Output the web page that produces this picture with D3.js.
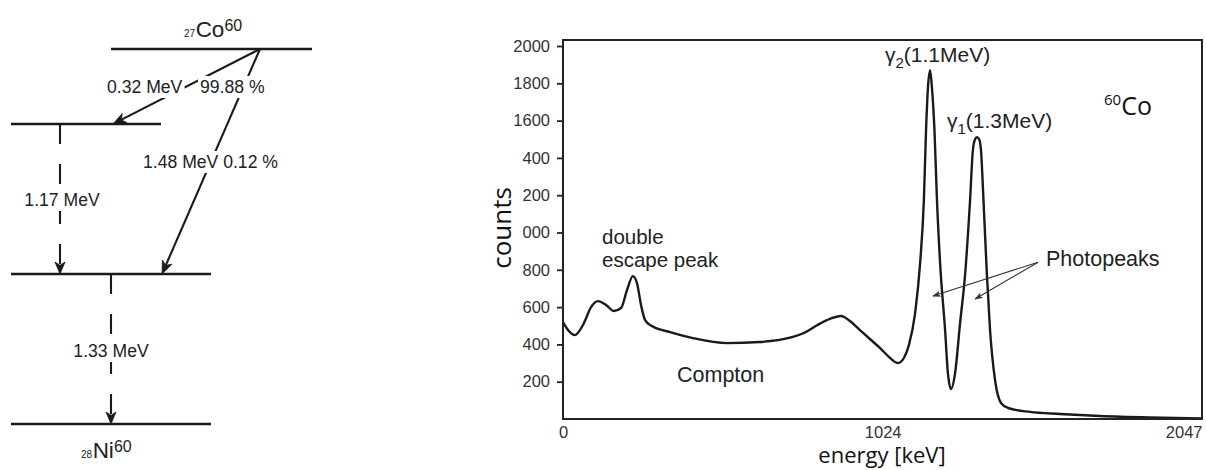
<!DOCTYPE html>
<html>
<head>
<meta charset="utf-8">
<script src="https://cdn.jsdelivr.net/npm/d3@7"></script>
<style>
  body { margin: 0; background: #fff; }
  svg { display: block; }
</style>
</head>
<body>
<svg id="fig" width="1206" height="470"></svg>
<script>
// ---------- Co-60 gamma spectrum ----------
const energy = [0, 16, 38, 64, 90, 112, 138, 163, 186, 205, 224, 237, 250, 263, 285, 343, 416, 525, 631, 727,
  775, 814, 855, 891, 919, 951, 983, 1016, 1048, 1073, 1092, 1108, 1128, 1144, 1156, 1163, 1169, 1176, 1182, 1190,
  1198, 1208, 1224, 1233, 1243, 1256, 1272, 1288, 1304, 1313, 1320, 1326, 1333, 1339, 1347, 1358, 1368, 1384, 1403, 1426,
  1496, 1592, 1720, 1880, 2047];
const counts = [520, 477, 450, 504, 600, 632, 611, 579, 595, 691, 766, 729, 611, 530, 498, 466, 434, 407, 413, 436,
  464, 503, 537, 552, 525, 477, 429, 380, 327, 300, 327, 396, 568, 836, 1173, 1548, 1774, 1870, 1774, 1548,
  1173, 836, 477, 246, 161, 246, 514, 772, 1173, 1441, 1500, 1511, 1500, 1441, 1173, 772, 477, 209, 86, 59,
  38, 27, 16, 8, 3];

const yTickValues = [200, 400, 600, 800, 1000, 1200, 1400, 1600, 1800, 2000];
const yTickLabels = ["200", "400", "600", "800", "000", "200", "400", "1600", "1800", "2000"];
const xTickValues = [0, 1024, 2047];
const xTickLabels = ["0", "1024", "2047"];

// ---------- Co-60 decay scheme (level energies in MeV) ----------
const levelEnergy = [2.824, 2.506, 1.333, 0];
const betaFrom = [2.824, 2.824];
const betaTo = [2.506, 1.333];
const betaLabels = [["0.32 MeV", "99.88 %"], ["1.48 MeV 0.12 %"]];
const gammaFrom = [2.506, 1.333];
const gammaTo = [1.333, 0];
const gammaLabels = ["1.17 MeV", "1.33 MeV"];

const svg = d3.select("#fig");
const INK = "#1a1a1a";
const SANS = "'Liberation Sans', Arial, sans-serif";
const ROUND = "'Open Sans', 'Noto Sans', sans-serif";

// arrowhead path with tip at (x2,y2) pointing along (x1,y1)->(x2,y2)
function arrowHead(g, x1, y1, x2, y2, len, half, color) {
  const a = Math.atan2(y2 - y1, x2 - x1);
  const c = Math.cos(a), s = Math.sin(a);
  const bx = x2 - len * c, by = y2 - len * s;
  const nx = x2 - len * 0.72 * c, ny = y2 - len * 0.72 * s;
  const p = [[x2, y2], [bx - half * s, by + half * c], [nx, ny], [bx + half * s, by - half * c]];
  g.append("path").attr("d", "M" + p.map(q => q.join(",")).join("L") + "Z")
    .attr("fill", color).attr("stroke", color).attr("stroke-width", 0.8).attr("stroke-linejoin", "round");
}

// label with a white box behind it, leaving a gap in lines underneath
function boxedText(g, txt, x, y, anchor, size) {
  const grp = g.append("g");
  const rect = grp.append("rect").attr("fill", "#fff");
  const t = grp.append("text").attr("x", x).attr("y", y).attr("text-anchor", anchor)
    .attr("font-family", SANS).attr("font-size", size).attr("fill", "#222").text(txt);
  const b = t.node().getBBox();
  rect.attr("x", b.x - 2).attr("y", b.y - 1).attr("width", b.width + 4).attr("height", b.height + 2);
  return grp;
}

// ---------- decay scheme ----------
(function drawScheme() {
  const g = svg.append("g");
  // polylinear placement of the levels
  const ly = d3.scaleLinear().domain([0, 1.333, 2.506, 2.824]).range([424, 274, 124, 49]);
  const levelSpan = { 2.824: [111, 312], 2.506: [11, 161], 1.333: [11, 211], 0: [11, 211] };
  const betaStartX = 260;
  const betaEndX = { 2.506: 113, 1.333: 162 };
  const gammaX = { 2.506: 60, 1.333: 111 };

  levelEnergy.forEach(e => {
    g.append("line").attr("x1", levelSpan[e][0]).attr("x2", levelSpan[e][1])
      .attr("y1", ly(e)).attr("y2", ly(e)).attr("stroke", INK).attr("stroke-width", 2.3);
  });

  // beta branches
  betaFrom.forEach((e0, i) => {
    const x1 = betaStartX, y1 = ly(e0), x2 = betaEndX[betaTo[i]], y2 = ly(betaTo[i]);
    const a = Math.atan2(y2 - y1, x2 - x1);
    g.append("line").attr("x1", x1).attr("y1", y1)
      .attr("x2", x2 - 9 * Math.cos(a)).attr("y2", y2 - 9 * Math.sin(a))
      .attr("stroke", INK).attr("stroke-width", 2.1);
    arrowHead(g, x1, y1, x2, y2, 13, 5.2, INK);
  });

  // gamma transitions (dashed)
  gammaFrom.forEach((e0, i) => {
    const x = gammaX[e0], y1 = ly(e0), y2 = ly(gammaTo[i]);
    g.append("line").attr("x1", x).attr("x2", x).attr("y1", y1).attr("y2", y2 - 10)
      .attr("stroke", INK).attr("stroke-width", 2.1).attr("stroke-dasharray", "20 20");
    arrowHead(g, x, y1, x, y2, 12, 5, INK);
  });

  // labels over the transitions
  boxedText(g, betaLabels[0][0], 107, 93, "start", 17.6);
  boxedText(g, betaLabels[0][1], 200, 93, "start", 17.6);
  boxedText(g, betaLabels[1][0], 143, 168, "start", 17.6);
  boxedText(g, gammaLabels[0], 62, 206, "middle", 17.6);
  boxedText(g, gammaLabels[1], 111, 357, "middle", 17.6);

  // nuclide names with Z subscript and A superscript
  function nuclide(x, y, z, sym, a) {
    const t = g.append("text").attr("x", x).attr("y", y).attr("font-family", SANS).attr("fill", "#222");
    t.append("tspan").attr("font-size", 10).text(z);
    t.append("tspan").attr("font-size", 22.5).attr("dx", 0.5).text(sym);
    t.append("tspan").attr("font-size", 16).attr("dy", -6).text(a);
  }
  nuclide(184, 37, "27", "Co", "60");
  nuclide(81, 458, "28", "Ni", "60");
})();

// ---------- spectrum ----------
(function drawSpectrum() {
  const L = 563, R = 1202, T = 40, B = 419;
  const x = d3.scaleLinear().domain([0, 2047]).range([L, R]);
  const y = d3.scaleLinear().domain([0, 2000]).range([B, 46]);
  const g = svg.append("g");

  const pts = energy.map((e, i) => ({ e, c: counts[i] }));
  g.append("path").datum(pts)
    .attr("d", d3.line().x(d => x(d.e)).y(d => y(d.c)).curve(d3.curveMonotoneX))
    .attr("fill", "none").attr("stroke", INK).attr("stroke-width", 2.4).attr("stroke-linejoin", "round");

  // frame
  g.append("rect").attr("x", L).attr("y", T).attr("width", R - L).attr("height", B - T)
    .attr("fill", "none").attr("stroke", "#222").attr("stroke-width", 2);

  // y axis
  const ya = g.append("g").attr("transform", `translate(${L},0)`)
    .call(d3.axisLeft(y).tickValues(yTickValues).tickFormat((d, i) => yTickLabels[i]).tickSize(6).tickPadding(7));
  ya.select(".domain").remove();
  ya.selectAll("line").attr("stroke", "#222").attr("stroke-width", 1.8);
  ya.selectAll("text").attr("font-family", SANS).attr("font-size", 16.5).attr("fill", "#333");

  // x axis
  const xa = g.append("g").attr("transform", `translate(0,${B})`)
    .call(d3.axisBottom(x).tickValues(xTickValues).tickFormat((d, i) => xTickLabels[i]).tickSize(0).tickPadding(7));
  xa.select(".domain").remove();
  xa.selectAll("text").attr("font-family", SANS).attr("font-size", 16.5).attr("fill", "#333")
    .attr("text-anchor", (d, i) => i === xTickValues.length - 1 ? "end" : "middle");

  // axis titles
  g.append("text").attr("transform", `translate(511,228) rotate(-90)`).attr("text-anchor", "middle")
    .attr("font-family", ROUND).attr("font-size", 26).attr("fill", "#111").text("counts");
  g.append("text").attr("x", 882).attr("y", 463).attr("text-anchor", "middle")
    .attr("font-family", ROUND).attr("font-size", 22).attr("fill", "#111").text("energy [keV]");

  // peak labels
  function gammaLabel(px, py, sub, rest) {
    const t = g.append("text").attr("x", px).attr("y", py).attr("font-family", SANS).attr("fill", "#222");
    t.append("tspan").attr("font-size", 21).text("γ");
    t.append("tspan").attr("font-size", 15).attr("dy", 6).text(sub);
    t.append("tspan").attr("font-size", 21).attr("dy", -6).text(rest);
  }
  gammaLabel(885, 62, "2", "(1.1MeV)");
  gammaLabel(947, 128, "1", "(1.3MeV)");

  const iso = g.append("text").attr("x", 1104).attr("y", 115).attr("font-family", ROUND).attr("fill", "#111");
  iso.append("tspan").attr("font-size", 15).attr("dy", -10).text("60");
  iso.append("tspan").attr("font-size", 25).attr("dy", 10).text("Co");

  const ann = (tx, ty, txt, size) => g.append("text").attr("x", tx).attr("y", ty)
    .attr("font-family", SANS).attr("font-size", size).attr("fill", "#222").text(txt);
  ann(602, 244, "double", 20.5);
  ann(602, 267, "escape peak", 20.5);
  ann(677, 382, "Compton", 21.5);
  ann(1046, 266, "Photopeaks", 21.5);

  // photopeak pointers
  const from = { e: 1522, c: 841 };
  [{ e: 1185, c: 659 }, { e: 1320, c: 643 }].forEach(tip => {
    const x1 = x(from.e), y1 = y(from.c), x2 = x(tip.e), y2 = y(tip.c);
    g.append("line").attr("x1", x1).attr("y1", y1).attr("x2", x2).attr("y2", y2)
      .attr("stroke", "#333").attr("stroke-width", 1.1);
    arrowHead(g, x1, y1, x2, y2, 7, 2.4, "#333");
  });
})();
</script>
</body>
</html>
